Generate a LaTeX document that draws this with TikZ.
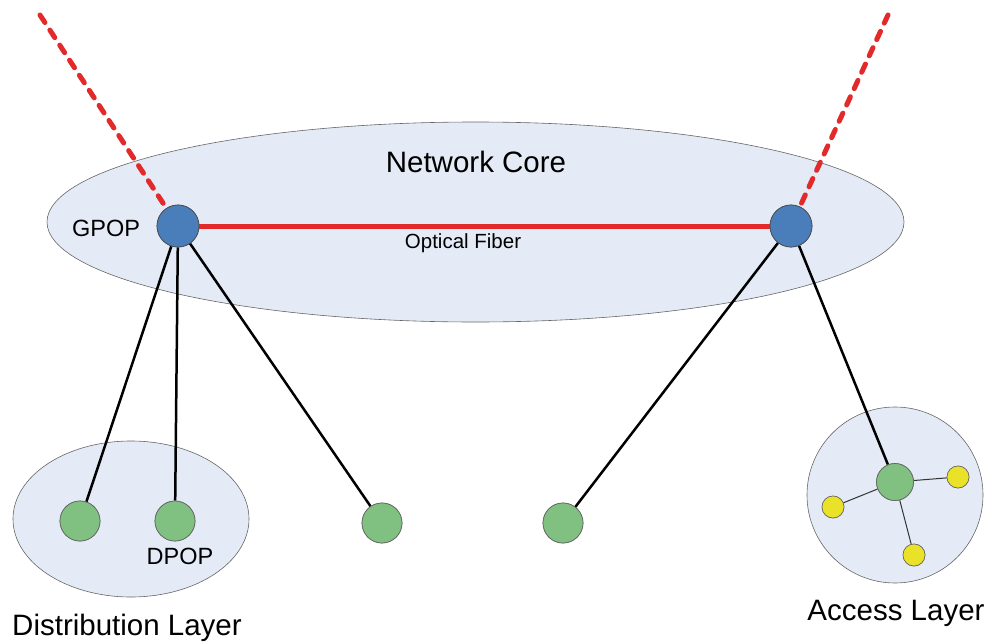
\documentclass[tikz,border=0pt]{standalone}
\usepackage{fontspec}
\setmainfont{Liberation Sans}
\usetikzlibrary{shapes.geometric}
\definecolor{areafill}{HTML}{E4EBF6}
\definecolor{gpopblue}{HTML}{4A7EBB}
\definecolor{nodegreen}{HTML}{80C080}
\definecolor{nodeyellow}{HTML}{EAE228}
\definecolor{fibred}{HTML}{E22A2A}
\begin{document}
\begin{tikzpicture}[x=1pt,y=-1pt,
  area/.style={draw=black!60, line width=0.6pt, fill=areafill},
  gpop/.style={circle, draw=black!70, line width=0.7pt, fill=gpopblue, minimum size=42pt, inner sep=0pt},
  dpop/.style={circle, draw=black!60, line width=0.7pt, fill=nodegreen, minimum size=40pt, inner sep=0pt},
  leaf/.style={circle, draw=black!60, line width=0.6pt, fill=nodeyellow, minimum size=22pt, inner sep=0pt},
  link/.style={line width=2.5pt, black},
  thinlink/.style={line width=1pt, black!80},
  fibre/.style={line width=5pt, fibred},
  uplink/.style={line width=5pt, fibred, dash pattern=on 9pt off 9pt, line cap=round},
  lbl/.style={font=\fontsize{23.5}{28}\selectfont, inner sep=0pt},
  biglbl/.style={font=\fontsize{29.5}{35}\selectfont, inner sep=0pt}]
\useasboundingbox (0,0) rectangle (985,642);
% areas
\draw[area] (475.5,222) ellipse [x radius=428.5, y radius=100];
\draw[area] (131,519) ellipse [x radius=118, y radius=78];
\draw[area] (895,495) circle [radius=88];
% nodes
\node[gpop] (g1) at (178,226) {};
\node[gpop] (g2) at (791,226) {};
\node[dpop] (d1) at (80,521) {};
\node[dpop] (d2) at (175,521) {};
\node[dpop] (d3) at (382,523) {};
\node[dpop] (d4) at (563,523) {};
\node[dpop, minimum size=37pt] (a0) at (895,482) {};
\node[leaf] (y1) at (958,477) {};
\node[leaf] (y2) at (833,507) {};
\node[leaf] (y3) at (914,555) {};
\coordinate (t1) at (40,15);
\coordinate (t2) at (888,15);
% connectors
\draw[uplink] (t1) -- (g1);
\draw[uplink] (t2) -- (g2);
\draw[link] (g1) -- (d1);
\draw[link] (g1) -- (d2);
\draw[link] (g1) -- (d3);
\draw[link] (g2) -- (d4);
\draw[link] (g2) -- (a0);
\draw[thinlink] (a0) -- (y1);
\draw[thinlink] (a0) -- (y2);
\draw[thinlink] (a0) -- (y3);
\draw[fibre] (g1) -- (g2);
% redraw nodes on top of connectors
\node[gpop] at (g1) {};
\node[gpop] at (g2) {};
\node[dpop] at (d1) {};
\node[dpop] at (d2) {};
\node[dpop] at (d3) {};
\node[dpop] at (d4) {};
\node[dpop, minimum size=37pt] at (a0) {};
\node[leaf] at (y1) {};
\node[leaf] at (y2) {};
\node[leaf] at (y3) {};
% labels
\node[biglbl] (core) at (476,162) {Network Core};
\node[lbl] (gl) at (106,228) {GPOP};
\node[lbl, font=\fontsize{20.5}{24}\selectfont] (of) at (463,243) {Optical Fiber};
\node[lbl] (dl) at (180,556) {DPOP};
\node[biglbl] (dist) at (127,628) {Distribution Layer};
\node[biglbl] (acc) at (896,613) {Access Layer};
\end{tikzpicture}
\end{document}
